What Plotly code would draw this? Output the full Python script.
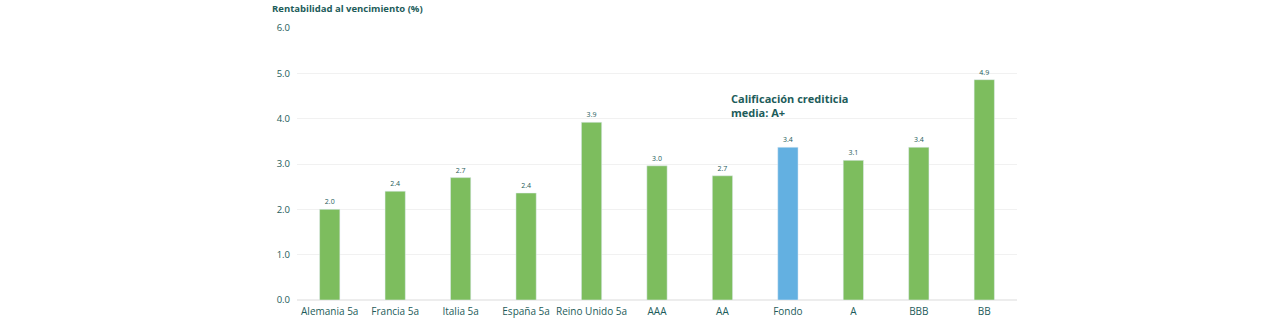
import plotly.graph_objects as go

categories = ["Alemania 5a", "Francia 5a", "Italia 5a", "España 5a", "Reino Unido 5a",
              "AAA", "AA", "Fondo", "A", "BBB", "BB"]
values = [2.0, 2.4, 2.7, 2.36, 3.92, 2.96, 2.74, 3.37, 3.08, 3.37, 4.86]
bar_colors = ["#7dbd5e"] * 7 + ["#63b0e1"] + ["#7dbd5e"] * 3
labels = [f"{v:.1f}" for v in values]
y_ticks = [0, 1, 2, 3, 4, 5, 6]
y_tick_text = [f"{t:.1f}" for t in y_ticks]

teal = "#1d5c5a"
fig = go.Figure(go.Bar(
    x=categories, y=values, marker_color=bar_colors, width=0.31,
    text=labels, textposition="outside", cliponaxis=False,
    textfont=dict(size=7, color=teal, family="Open Sans"),
))
fig.update_layout(
    width=1280, height=324,
    margin=dict(l=297, r=263, t=28, b=24, autoexpand=False),
    plot_bgcolor="white", paper_bgcolor="white",
    font=dict(family="Open Sans", color=teal),
    showlegend=False,
    bargap=0.69,
)
fig.update_yaxes(range=[0, 6], tickvals=y_ticks, ticktext=y_tick_text, automargin=False,
                 gridcolor="#f1f1f1", gridwidth=1, zeroline=True, zerolinecolor="#ededed",
                 tickfont=dict(size=9.5, color=teal), ticklabelstandoff=6)
fig.update_xaxes(tickfont=dict(size=10, color=teal), showline=False, ticks="",
                 automargin=False, ticklabelstandoff=4)
fig.add_annotation(text="<b>Rentabilidad al vencimiento (%)</b>", xref="paper", yref="paper",
                   x=-0.037, y=1.0, yshift=20, xanchor="left", yanchor="middle", showarrow=False,
                   font=dict(size=9.5, color=teal))
fig.add_annotation(text="<b>Calificación crediticia<br>media: A+</b>", xref="paper", yref="y",
                   x=0.6, y=4.28, xanchor="left", yanchor="middle", showarrow=False, align="left",
                   font=dict(size=11, color=teal))
fig.write_html("out.html")
